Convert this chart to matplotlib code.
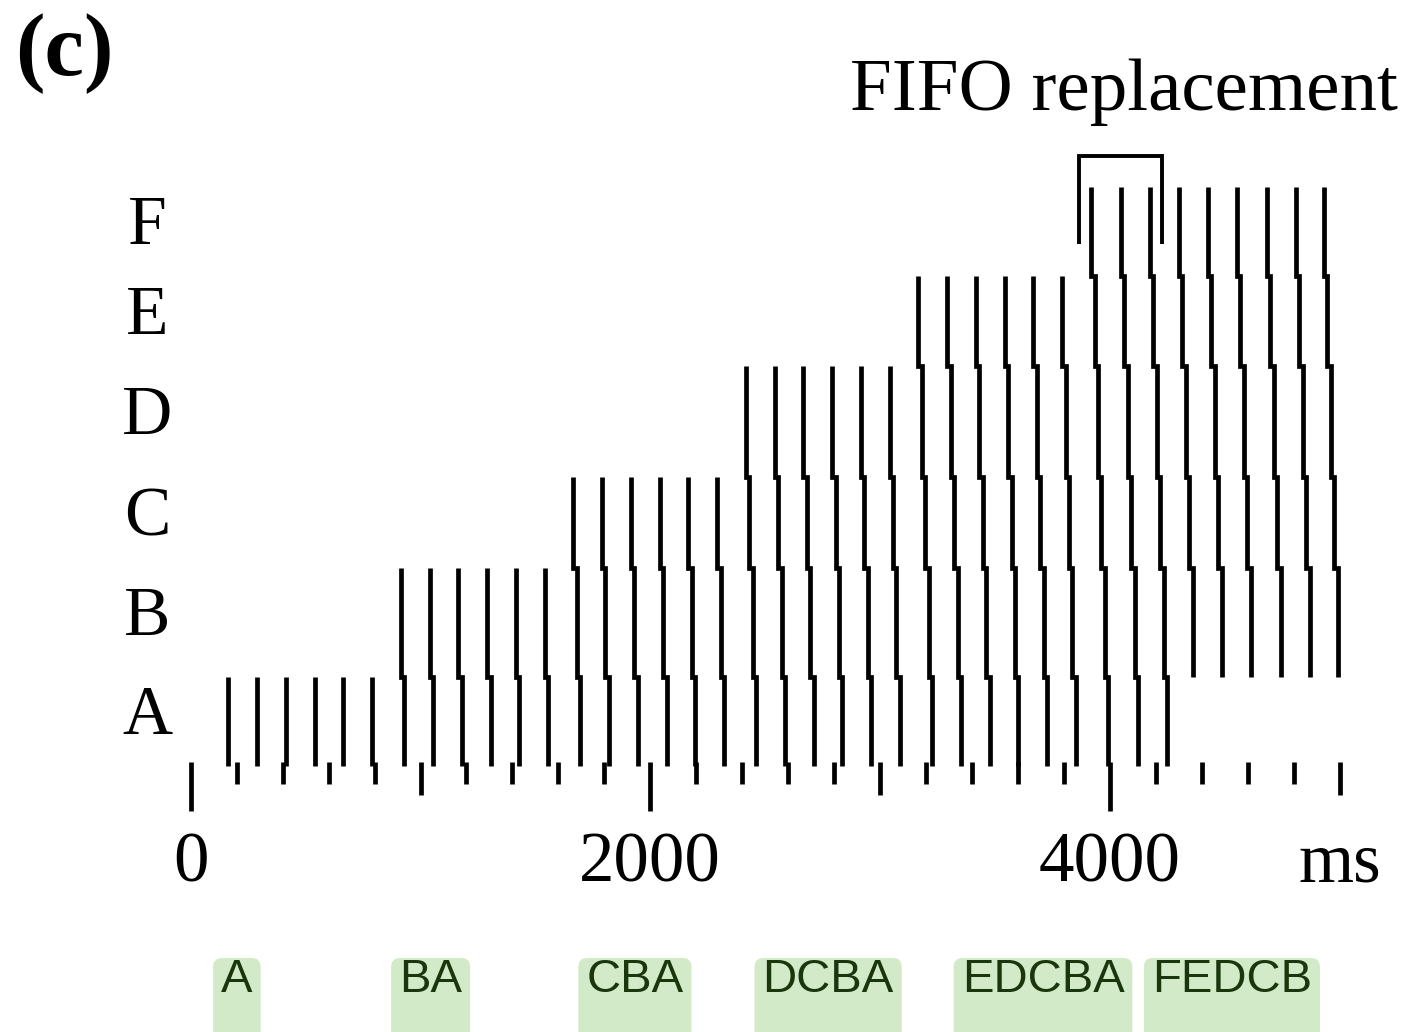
import matplotlib.pyplot as plt
from matplotlib.patches import FancyBboxPatch
from matplotlib.transforms import IdentityTransform

#################################
# theta cycle onsets (ms)
cycle_onsets = [164, 289, 414, 539, 664, 790, 915, 1040, 1165, 1290,
                1415, 1540, 1665, 1790, 1915, 2041, 2166, 2291, 2416, 2541,
                2666, 2791, 2916, 3041, 3166, 3292, 3417, 3542, 3667, 3792,
                3918, 4048, 4174, 4300, 4427, 4553, 4683, 4809, 4931]
items = ['A', 'B', 'C', 'D', 'E', 'F']
first_cycle = [0, 6, 12, 18, 24, 30]    # cycle where each item comes in
last_cycle = [32, 38, 38, 38, 38, 38]   # last cycle where it still fires
gamma_lag = 15                          # ms between items inside one cycle

axis_ticks = list(range(0, 5001, 200))
major_ticks = [0, 2000, 4000]
mid_ticks = [1000, 3000, 5000]
tick_labels = ['0', '2000', '4000']

fifo_span = [3866, 4225]

memory_labels = ['A', 'BA', 'CBA', 'DCBA', 'EDCBA', 'FEDCB']
memory_label_ms = [201, 1044, 1933, 2774, 3709, 4531]
#################################
W, H = 1405, 1032
X0, PX_PER_MS = 190.7, 0.2298
row_edges = [187, 276, 366, 477, 568, 677, 766]   # F top ... A bottom (px)
SERIF = 'Liberation Serif'
LW = 3.4

fig = plt.figure(figsize=(W / 100, H / 100), dpi=100)
ax = fig.add_axes([0, 0, 1, 1])
ax.set_xlim(-X0 / PX_PER_MS, (W - X0) / PX_PER_MS)
ax.set_ylim(H, 0)
ax.axis('off')

def row_span(i):
    return row_edges[5 - i], row_edges[6 - i]

# staircase spike columns, newest item fires first
for k, t0 in enumerate(cycle_onsets):
    active = [i for i in range(len(items)) if first_cycle[i] <= k <= last_cycle[i]]
    active.sort(reverse=True)
    xs, ys = [], []
    for slot, i in enumerate(active):
        t = t0 + slot * gamma_lag
        top, bot = row_span(i)
        xs += [t, t]
        ys += [top, bot]
    ax.plot(xs, ys, color='black', lw=LW, solid_joinstyle='miter',
            solid_capstyle='butt')

# row labels
for i, name in enumerate(items):
    top, bot = row_span(i)
    ax.text(-190, (top + bot) / 2 - 4, name, ha='center', va='center',
            fontsize=50, family=SERIF)

# time axis ticks
for t in axis_ticks:
    if t in major_ticks:
        end = 811
    elif t in mid_ticks:
        end = 795
    else:
        end = 784
    ax.plot([t, t], [762, end], color='black', lw=LW, solid_capstyle='butt')
for t, lab in zip(major_ticks, tick_labels):
    ax.text(t, 882, lab, ha='center', va='baseline', fontsize=51, family=SERIF)
ax.text(5000, 882, 'ms', ha='center', va='baseline', fontsize=51, family=SERIF)

# FIFO bracket
ax.plot([fifo_span[0], fifo_span[0], fifo_span[1], fifo_span[1]],
        [244, 156, 156, 244], color='black', lw=2.8,
        solid_joinstyle='miter', solid_capstyle='butt')
ax.text(2869, 110, 'FIFO replacement', ha='left', va='baseline',
        fontsize=54, family=SERIF)

ax.text(-765, 75, '(c)', ha='left', va='baseline', fontsize=64,
        family=SERIF, fontweight='bold')

# memory content labels with green boxes
texts = []
for t, lab in zip(memory_label_ms, memory_labels):
    texts.append(ax.text(t, 992, lab, ha='center', va='baseline',
                         fontsize=34, family='Liberation Sans',
                         color='#1a360d', zorder=5))
fig.canvas.draw()
r = fig.canvas.get_renderer()
for txt in texts:
    bb = txt.get_window_extent(r)
    box = FancyBboxPatch((bb.x0 - 8, -20), bb.width + 16, H - 958 + 20,
                         boxstyle='round,pad=0,rounding_size=9',
                         facecolor='#d3eac8', edgecolor='none',
                         transform=IdentityTransform(), zorder=1)
    ax.add_artist(box)

plt.savefig('out.png', dpi=100)
